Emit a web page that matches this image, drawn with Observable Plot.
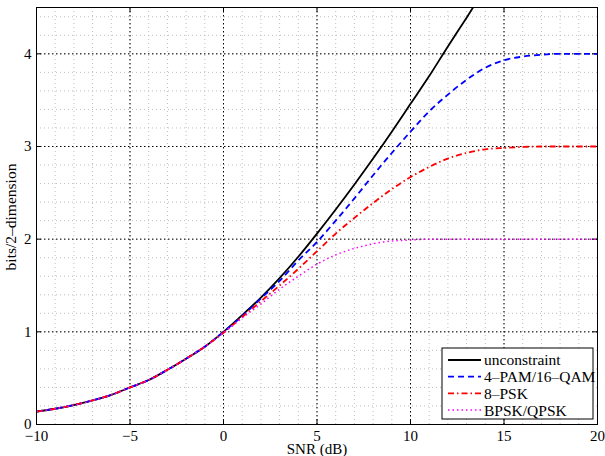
<!DOCTYPE html>
<html><head><meta charset="utf-8">
<script src="https://cdn.jsdelivr.net/npm/d3@7"></script>
<script src="https://cdn.jsdelivr.net/npm/@observablehq/plot@0.6"></script>
<style>
html,body{margin:0;padding:0;background:#fff;}
#chart{width:605px;height:456px;overflow:hidden;}
svg{display:block;}
</style></head><body><div id="chart"></div>
<script>
// SNR grid (dB) at which the curves were read
const snrDb = [-10,-9,-8,-7,-6,-5,-4,-3,-2,-1,0,1,2,3,4,5,6,7,8,9,10,11,12,13,14,15,16,17,18,19,20];

// bits / 2-dimension
const unconstraint = [0.14,0.17,0.21,0.26,0.32,0.40,0.48,0.59,0.71,0.84,1.00,1.18,1.37,1.58,1.81,2.06,2.32,2.59,2.87,3.16,3.46,3.76,4.08,4.39,4.71];
const pam4qam16 = [0.14,0.17,0.21,0.26,0.32,0.40,0.48,0.59,0.71,0.84,1.00,1.17,1.36,1.55,1.77,1.97,2.20,2.44,2.69,2.93,3.16,3.38,3.56,3.72,3.85,3.93,3.97,3.99,4.00,4.00,4.00];
const psk8 = [0.14,0.17,0.21,0.26,0.32,0.40,0.48,0.59,0.71,0.84,0.99,1.16,1.33,1.50,1.68,1.87,2.06,2.23,2.39,2.54,2.67,2.78,2.87,2.93,2.97,2.985,2.995,3.00,3.00,3.00,3.00];
const bpskQpsk = [0.14,0.17,0.21,0.26,0.32,0.40,0.48,0.59,0.71,0.84,0.99,1.15,1.30,1.46,1.60,1.73,1.83,1.90,1.95,1.98,1.99,2.00,2.00,2.00,2.00,2.00,2.00,2.00,2.00,2.00,2.00];

const seriesNames = ["unconstraint","4–PAM/16–QAM","8–PSK","BPSK/QPSK"];
const xTicks = [-10,-5,0,5,10,15,20];
const yTicks = [0,1,2,3,4];
const xMinor = d3.range(-10, 21, 1);
const yMinor = d3.range(0, 4.51, 0.2);

const styles = [
  {stroke:"#000000", dash:null, width:1.8},
  {stroke:"#0000ff", dash:"6,4", width:1.8},
  {stroke:"#ff0000", dash:"6,3,1.5,3", width:1.8},
  {stroke:"#ff00ff", dash:"1.5,3", width:1.5}
];
const allValues = [unconstraint, pam4qam16, psk8, bpskQpsk];
const tables = allValues.map((vals, k) => vals.map((v, i) => ({snr: snrDb[i], cap: v, name: seriesNames[k]})));

const font = "'Liberation Serif','Times New Roman',serif";
const fmt = d => d < 0 ? "\u2212" + (-d) : String(d);

const chart = Plot.plot({
  width: 605, height: 456,
  marginLeft: 36, marginRight: 8, marginTop: 7, marginBottom: 32,
  style: {fontFamily: font, fontSize: "15px", background: "#fff", color: "#000"},
  x: {domain: [-10, 20]},
  y: {domain: [0, 4.5]},
  marks: [
    Plot.ruleX(xMinor, {stroke: "#bdbdbd", strokeDasharray: "1,3", strokeWidth: 1}),
    Plot.ruleY(yMinor, {stroke: "#bdbdbd", strokeDasharray: "1,3", strokeWidth: 1}),
    Plot.ruleX(xTicks.slice(1, -1), {stroke: "#000", strokeDasharray: "1.5,2.5", strokeWidth: 1}),
    Plot.ruleY(yTicks.slice(1), {stroke: "#000", strokeDasharray: "1.5,2.5", strokeWidth: 1}),
    Plot.ruleX(xTicks, {y1: 0, y2: 0.05, stroke: "#000"}),
    Plot.ruleX(xTicks, {y1: 4.45, y2: 4.5, stroke: "#000"}),
    Plot.ruleY(yTicks, {x1: -10, x2: -9.75, stroke: "#000"}),
    Plot.ruleY(yTicks, {x1: 19.75, x2: 20, stroke: "#000"}),
    ...tables.map((t, k) => Plot.line(t, {
      x: "snr", y: "cap", curve: "monotone-x", clip: true,
      stroke: styles[k].stroke, strokeWidth: styles[k].width,
      strokeDasharray: styles[k].dash, strokeLinecap: "butt"
    })),
    Plot.frame({stroke: "#000", strokeWidth: 1}),
    Plot.axisX({ticks: xTicks, tickSize: 0, tickPadding: 6, tickFormat: fmt, label: null, fontSize: 15}),
    Plot.axisY({ticks: yTicks, tickSize: 0, tickPadding: 5, tickFormat: fmt, label: null, fontSize: 15})
  ]
});
document.getElementById("chart").appendChild(chart);

const svg = d3.select(chart);
svg.append("text").attr("x", 317).attr("y", 454).attr("text-anchor", "middle")
  .attr("font-family", font).attr("font-size", 15).attr("fill", "#000").text("SNR (dB)");
svg.append("text").attr("transform", "translate(16,217) rotate(-90)").attr("text-anchor", "middle")
  .attr("font-family", font).attr("font-size", 15.5).attr("fill", "#000").text("bits/2\u2013dimension");

const lg = svg.append("g").attr("text-anchor", "start");
lg.append("rect").attr("x", 442).attr("y", 348).attr("width", 151).attr("height", 71)
  .attr("fill", "#fff").attr("stroke", "#000").attr("stroke-width", 1);
seriesNames.forEach((n, k) => {
  const y = 360 + k * 16.7;
  lg.append("line").attr("x1", 448).attr("x2", 481).attr("y1", y).attr("y2", y)
    .attr("stroke", styles[k].stroke).attr("stroke-width", styles[k].width)
    .attr("stroke-dasharray", styles[k].dash);
  lg.append("text").attr("x", 484).attr("y", y).attr("dy", "0.35em").attr("text-anchor", "start")
    .attr("font-family", font).attr("font-size", 15.5).attr("fill", "#000").text(n);
});
</script></body></html>
